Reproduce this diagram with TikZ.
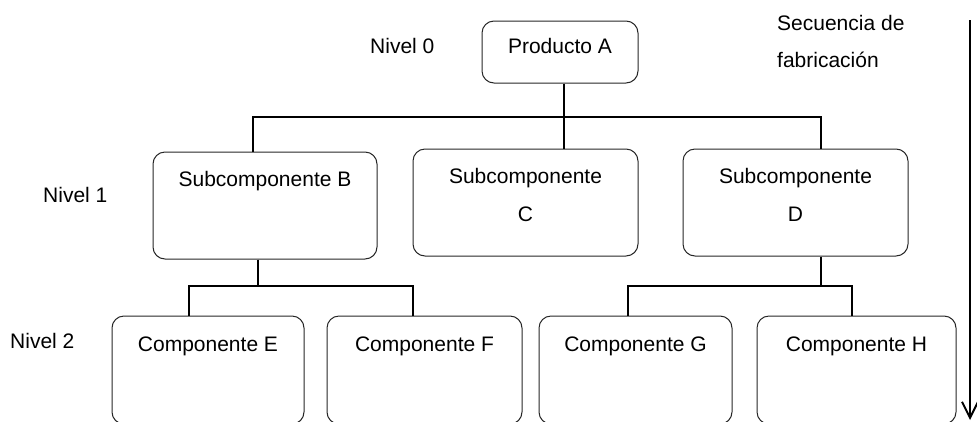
\documentclass[tikz,border=0pt]{standalone}
\usepackage{fontspec}
\setmainfont{Liberation Sans}
\usetikzlibrary{arrows.meta}
\begin{document}
\begin{tikzpicture}[x=1pt,y=-1pt,
  box/.style={draw=black!85, line width=1pt, rounded corners=12pt, inner sep=0pt},
  lbl/.style={inner sep=0pt, align=center, font=\fontsize{21pt}{38pt}\selectfont},
  conn/.style={line width=2pt, black},
  seqarrow/.style={line width=2pt, black, -{Straight Barb[length=16pt,width=16pt,line width=2pt]}}]
\useasboundingbox (0,0) rectangle (977,421);
\clip (0,0) rectangle (977,421);

% level labels
\node[lbl, anchor=base west] (n0) at (370,53) {Nivel 0};
\node[lbl, anchor=base west] (n1) at (43,202) {Nivel 1};
\node[lbl, anchor=base west] (n2) at (10,348) {Nivel 2};

% level 0
\node[box, minimum width=156pt, minimum height=62pt] (A) at (560,52) {};
\node[lbl, anchor=base] (At) at (560,53) {Producto A};

% level 1
\node[box, minimum width=224pt, minimum height=107pt] (B) at (265,205.5) {};
\node[lbl, anchor=base] (Bt) at (265,186) {Subcomponente B};
\node[box, minimum width=225pt, minimum height=107pt] (C) at (525.5,202.5) {};
\node[lbl, anchor=north] (Ct) at (525.5,168) {Subcomponente\\C};
\node[box, minimum width=225pt, minimum height=107pt] (D) at (795.5,202.5) {};
\node[lbl, anchor=north] (Dt) at (795.5,168) {Subcomponente\\D};

% level 2
\node[box, minimum width=192pt, minimum height=108pt] (E) at (208,370) {};
\node[lbl, anchor=base] (Et) at (208,351) {Componente E};
\node[box, minimum width=195pt, minimum height=108pt] (F) at (424.5,370) {};
\node[lbl, anchor=base] (Ft) at (424.5,351) {Componente F};
\node[box, minimum width=193pt, minimum height=108pt] (G) at (635.5,370) {};
\node[lbl, anchor=base] (Gt) at (635.5,351) {Componente G};
\node[box, minimum width=199pt, minimum height=108pt] (H) at (856.5,370) {};
\node[lbl, anchor=base] (Ht) at (856.5,351) {Componente H};

% junction points of the tree
\coordinate (bus0) at (564,117);
\coordinate (dropB) at (253,117);
\coordinate (dropD) at (821,117);
\coordinate (busB) at (258,286);
\coordinate (dropE) at (189,286);
\coordinate (dropF) at (413,286);
\coordinate (busD) at (821,286);
\coordinate (dropG) at (628,286);
\coordinate (dropH) at (852,286);

% connectors
\draw[conn] (A.south -| bus0) -- (C.north -| bus0);
\draw[conn] (B.north -| dropB) -- (dropB) -- (dropD) -- (D.north -| dropD);
\draw[conn] (B.south -| busB) -- (busB);
\draw[conn] (E.north -| dropE) -- (dropE) -- (dropF) -- (F.north -| dropF);
\draw[conn] (D.south -| busD) -- (busD);
\draw[conn] (G.north -| dropG) -- (dropG) -- (dropH) -- (H.north -| dropH);

% manufacturing sequence
\node[lbl, anchor=base west] (s1) at (777,30) {Secuencia de};
\node[lbl, anchor=base west] (s2) at (777,67) {fabricación};
\coordinate (seqtop) at (970,20);
\coordinate (seqend) at (970,420);
\draw[seqarrow] (seqtop) -- (seqend);
\end{tikzpicture}
\end{document}
